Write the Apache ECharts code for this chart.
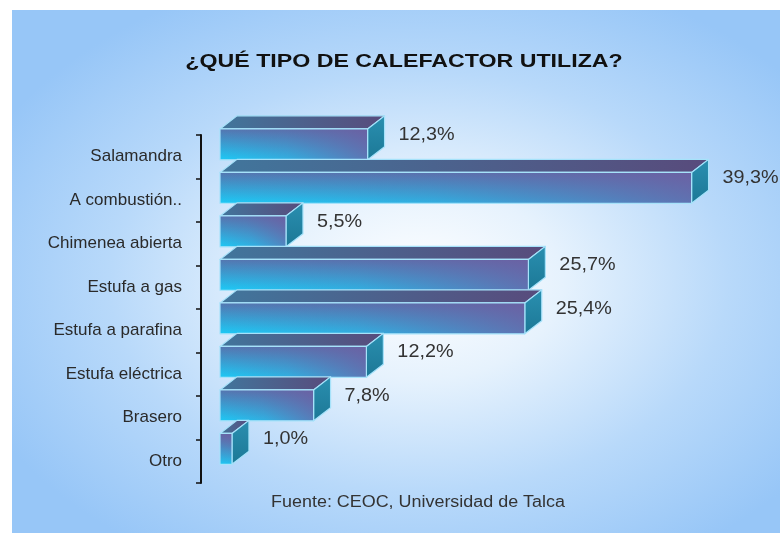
<!DOCTYPE html>
<html style="height: 100%">
<head>
    <meta charset="utf-8">
    <title>¿Qué tipo de calefactor utiliza?</title>
    <script src="https://cdn.jsdelivr.net/npm/echarts@6/dist/echarts.min.js"></script>
    <style>
        html, body { margin: 0; padding: 0; background: #fff; }
        #container { width: 780px; height: 533px; }
    </style>
</head>
<body>
<div id="container"></div>
<script>
    // datos
    var categorias = ['Salamandra', 'A combustión..', 'Chimenea abierta', 'Estufa a gas',
        'Estufa a parafina', 'Estufa eléctrica', 'Brasero', 'Otro'];
    var porcentajes = [12.3, 39.3, 5.5, 25.7, 25.4, 12.2, 7.8, 1.0];
    var titulo = '¿QUÉ TIPO DE CALEFACTOR UTILIZA?';
    var fuente = 'Fuente: CEOC, Universidad de Talca';

    var fontName = 'Liberation Sans, Arial, sans-serif';
    var separacion = 19; // hueco entre el eje y el frente de las barras

    // dibuja cada barra como caja 3D (frente, tapa, lado)
    function renderBar(params, api) {
        var c = api.value(0);
        var v = api.value(1);
        var p0 = api.coord([0, c]);
        var p1 = api.coord([v, c]);
        var band = api.size([0, 1])[1];
        var x = p0[0] + separacion;
        var y = p0[1] - 0.64 * band;
        var w = p1[0] - p0[0];
        var h = 0.71 * band;
        var dx = 0.39 * band;
        var dy = 0.30 * band;
        var edge = { stroke: '#a6e2fa', lineWidth: 1.2, lineJoin: 'round' };
        return {
            type: 'group',
            children: [
                {   // tapa
                    type: 'polygon',
                    shape: { points: [[x, y], [x + dx, y - dy], [x + w + dx, y - dy], [x + w, y]] },
                    style: Object.assign({
                        fill: new echarts.graphic.LinearGradient(0, 0, 1, 0, [
                            { offset: 0, color: '#41769c' },
                            { offset: 1, color: '#584b7c' }
                        ])
                    }, edge)
                },
                {   // lado
                    type: 'polygon',
                    shape: { points: [[x + w, y], [x + w + dx, y - dy], [x + w + dx, y + h - dy], [x + w, y + h]] },
                    style: Object.assign({
                        fill: new echarts.graphic.LinearGradient(0, 0, 0, 1, [
                            { offset: 0, color: '#2a8fb0' },
                            { offset: 1, color: '#1c7896' }
                        ])
                    }, edge)
                },
                {   // frente
                    type: 'rect',
                    shape: { x: x, y: y, width: w, height: h },
                    style: {
                        fill: new echarts.graphic.LinearGradient(0, 0, 0, 1, [
                            { offset: 0, color: '#5476b0' },
                            { offset: 1, color: '#1ccaf6' }
                        ])
                    }
                },
                {
                    type: 'rect',
                    shape: { x: x, y: y, width: w, height: h },
                    style: Object.assign({
                        fill: new echarts.graphic.LinearGradient(0, 1, 1, 0, [
                            { offset: 0, color: 'rgba(112,92,160,0)' },
                            { offset: 0.45, color: 'rgba(112,92,160,0.25)' },
                            { offset: 1, color: 'rgba(112,92,160,0.8)' }
                        ])
                    }, edge)
                },
                {   // etiqueta
                    type: 'text',
                    x: x + w + dx + 14,
                    y: p0[1] - 22,
                    scaleX: 1.1,
                    style: {
                        text: v.toFixed(1).replace('.', ',') + '%',
                        fill: '#333',
                        font: '18px ' + fontName,
                        align: 'left',
                        verticalAlign: 'middle'
                    }
                }
            ]
        };
    }

    var datos = [];
    for (var i = 0; i < categorias.length; i++) {
        datos.push([i, porcentajes[i]]);
    }

    var myChart = echarts.init(document.getElementById('container'));
    var option = {
        animation: false,
        graphic: [
            {
                type: 'rect',
                x: 12, y: 10,
                scaleX: 768 / 523,
                shape: { x: 0, y: 0, width: 523, height: 523 },
                style: {
                    fill: new echarts.graphic.RadialGradient(0.53, 0.52, 0.62, [
                        { offset: 0, color: '#ffffff' },
                        { offset: 0.3, color: '#e6f2fd' },
                        { offset: 0.65, color: '#b8d9fa' },
                        { offset: 1, color: '#97c6f7' }
                    ])
                },
                z: -10
            },
            {
                type: 'text',
                x: 404, y: 62,
                scaleX: 1.22,
                style: {
                    text: titulo,
                    fill: '#111',
                    font: 'bold 19px ' + fontName,
                    align: 'center',
                    verticalAlign: 'middle'
                }
            },
            {
                type: 'text',
                x: 418, y: 503,
                scaleX: 1.12,
                style: {
                    text: fuente,
                    fill: '#333',
                    font: '16px ' + fontName,
                    align: 'center',
                    verticalAlign: 'middle'
                }
            }
        ],
        grid: {
            left: 201,
            right: 39,
            top: 135,
            bottom: 50
        },
        xAxis: {
            type: 'value',
            min: 0,
            max: 45,
            show: false
        },
        yAxis: {
            type: 'category',
            data: categorias,
            inverse: true,
            axisLine: { show: true, lineStyle: { color: '#111', width: 2 } },
            axisTick: { show: true, length: 5, lineStyle: { color: '#111', width: 1.5 } },
            axisLabel: { color: '#2a2a2a', fontSize: 17, fontFamily: fontName, margin: 19 },
            splitLine: { show: false }
        },
        series: [{
            type: 'custom',
            renderItem: renderBar,
            encode: { x: 1, y: 0 },
            data: datos
        }]
    };
    myChart.setOption(option);
</script>
</body>
</html>
